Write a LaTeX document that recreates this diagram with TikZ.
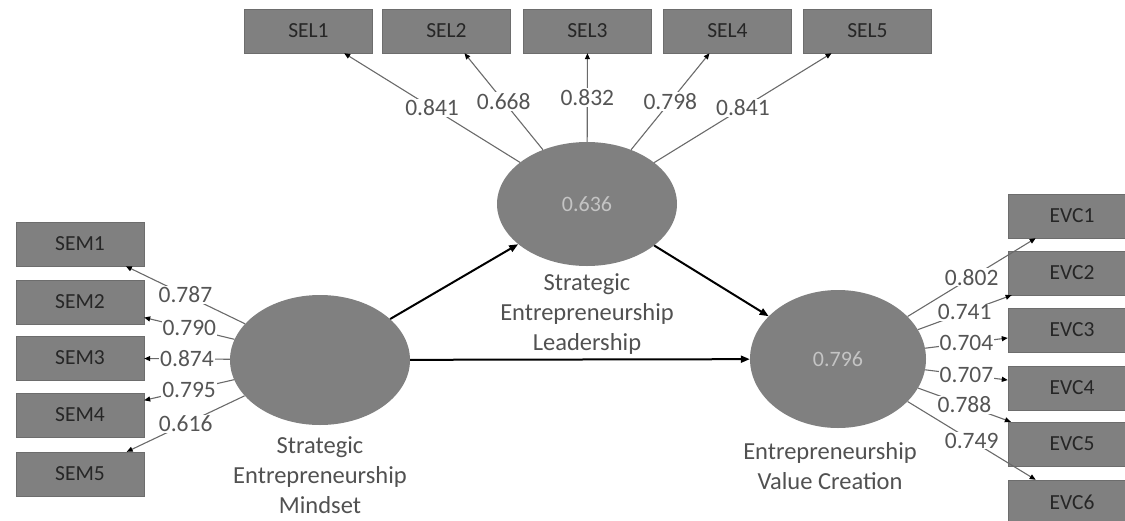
\documentclass[tikz,border=0pt]{standalone}
\usepackage{fontspec}
\setmainfont{Carlito}
\usetikzlibrary{arrows.meta,positioning,shapes.geometric}

\definecolor{boxgrey}{HTML}{808080}
\definecolor{boxtext}{HTML}{262626}
\definecolor{valtext}{HTML}{555555}
\definecolor{linegrey}{HTML}{6A6A6A}
\definecolor{lvtext}{HTML}{C4C4C4}

\begin{document}
\begin{tikzpicture}[x=1pt,y=-1pt]
  % styles for indicators, latent variables and paths
  \tikzset{
    ind/.style  = {draw=boxgrey!85!black, fill=boxgrey, minimum width=128pt, minimum height=44pt,
                   inner sep=0pt, font=\fontsize{21.5}{23}\selectfont, text=boxtext},
    lv/.style   = {ellipse, fill=boxgrey, inner sep=0pt, font=\fontsize{22}{24}\selectfont, text=lvtext},
    lab/.style  = {align=center, font=\fontsize{24.5}{30}\selectfont, text=boxtext!80!white},
    val/.style  = {fill=white, inner sep=1pt, font=\fontsize{23.5}{25}\selectfont, text=valtext},
    load/.style = {draw=linegrey, line width=1.1pt, -{Triangle[length=6pt,width=5pt,color=black]}},
    strpath/.style = {draw=black, line width=2pt, -{Triangle[length=9pt,width=7pt]}}
  }

  \useasboundingbox (0,0) rectangle (1125,520);
  \clip (0,0) rectangle (1125,520);

  % ========= latent variables =========
  \node[lv, minimum width=180pt, minimum height=130pt] (sem) at (320,360) {};
  \node[lv, minimum width=180pt, minimum height=124pt] (sel) at (587,204) {0.636};
  \node[lv, minimum width=176pt, minimum height=138pt] (evc) at (838,359) {0.796};

  \node[lab, below=8pt of sem] (semlab) {Strategic\\Entrepreneurship\\Mindset};
  \node[lab, below=4pt of sel] (sellab) {Strategic\\Entrepreneurship\\Leadership};
  \node[lab, below=11pt of evc, xshift=-8pt] (evclab) {Entrepreneurship\\Value Creation};

  % ========= indicators: SEM (left column) =========
  \node[ind] (sem1) at (80,244) {SEM1};
  \node[ind] (sem2) at (80,302) {SEM2};
  \node[ind] (sem3) at (80,358) {SEM3};
  \node[ind] (sem4) at (80,415) {SEM4};
  \node[ind] (sem5) at (80,474) {SEM5};

  % ========= indicators: SEL (top row) =========
  \foreach \i/\x in {1/308.5,2/446.5,3/587.5,4/727.5,5/867.5}
    \node[ind] (sel\i) at (\x,31) {SEL\i};

  % ========= indicators: EVC (right column) =========
  \foreach \i/\y in {1/216,2/273,3/330,4/388,5/444,6/502}
    \node[ind] (evc\i) at (1072,\y) {EVC\i};

  % ========= outer loadings =========
  \path[load] (sem) -- node[val] {0.787} (sem1);
  \path[load] (sem) -- node[val] {0.790} (sem2);
  \path[load] (sem) -- node[val] {0.874} (sem3);
  \path[load] (sem) -- node[val] {0.795} (sem4);
  \path[load] (sem) -- node[val] {0.616} (sem5);

  \path[load] (sel) -- node[val] {0.841} (sel1);
  \path[load] (sel) -- node[val] {0.668} (sel2);
  \path[load] (sel) -- node[val] {0.832} (sel3);
  \path[load] (sel) -- node[val] {0.798} (sel4);
  \path[load] (sel) -- node[val] {0.841} (sel5);

  \path[load] (evc) -- node[val] {0.802} (evc1);
  \path[load] (evc) -- node[val] {0.741} (evc2);
  \path[load] (evc) -- node[val] {0.704} (evc3);
  \path[load] (evc) -- node[val] {0.707} (evc4);
  \path[load] (evc) -- node[val] {0.788} (evc5);
  \path[load] (evc) -- node[val] {0.749} (evc6);

  % ========= structural paths =========
  \path[strpath] (sem) -- (sel);
  \path[strpath] (sel) -- (evc);
  \path[strpath] (sem) -- (evc);
\end{tikzpicture}
\end{document}
